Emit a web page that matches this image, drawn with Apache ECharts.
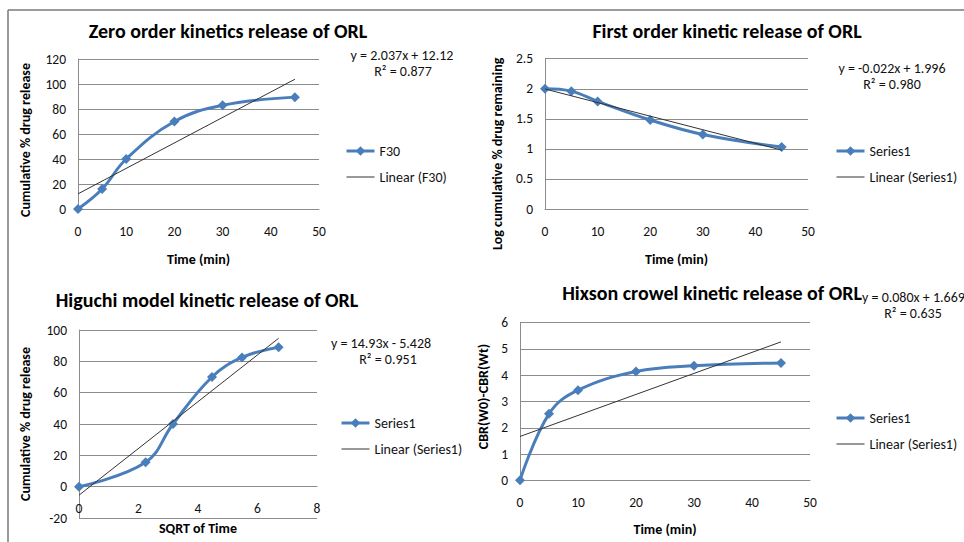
<!DOCTYPE html>
<html>
<head>
<meta charset="utf-8">
<script src="https://cdn.jsdelivr.net/npm/echarts@6/dist/echarts.min.js"></script>
<style>
html,body{margin:0;padding:0;background:#fff;}
#c{width:964px;height:542px;}
</style>
</head>
<body>
<div id="c"></div>
<script>
// ---- data ----
const timeMin = [0, 5, 10, 20, 30, 45];
const sqrtTime = [0, 2.24, 3.16, 4.47, 5.48, 6.71];
const zeroOrder = [0, 16, 40, 70, 83, 89.5];
const firstOrder = [2.0, 1.96, 1.79, 1.48, 1.24, 1.03];
const higuchi = [0, 15.6, 40, 70, 82.5, 89];
const hixson = [0, 2.53, 3.43, 4.14, 4.36, 4.47];
// trend line end points (x, y)
const zeroTrendX = [0, 45], zeroTrendY = [12.12, 103.8];
const firstTrendX = [0, 45], firstTrendY = [1.996, 0.98];
const higuchiTrendX = [0, 6.71], higuchiTrendY = [-5.43, 94.7];
const hixsonTrendX = [0, 45], hixsonTrendY = [1.669, 5.27];
// axis ticks
const timeTicks = {min: 0, max: 50, interval: 10};
const sqrtTicks = {min: 0, max: 8, interval: 2};
const zeroTicks = {min: 0, max: 120, interval: 20};
const firstTicks = {min: 0, max: 2.5, interval: 0.5};
const higuchiTicks = {min: -20, max: 100, interval: 20};
const hixsonTicks = {min: 0, max: 6, interval: 1};

const FONT = 'Carlito, Lato, "Open Sans", sans-serif';
const BLUE = '#4a7ebb';
const GRID_C = '#8c8c8c';

const pairs = (xs, ys) => xs.map((x, i) => [x, ys[i]]);

const grids = [
  {left: 78, top: 59, width: 241, height: 150},
  {left: 545, top: 58.7, width: 263, height: 150.3},
  {left: 79, top: 330, width: 238, height: 188},
  {left: 520, top: 322.7, width: 290, height: 157.6}
].map(g => Object.assign(g, {containLabel: false, outerBoundsMode: 'none'}));

// vertical distance from grid bottom to the y = 0 line (x axis crosses at zero)
function zeroOffset(gi, yTicks) {
  return -grids[gi].height * (0 - yTicks.min) / (yTicks.max - yTicks.min);
}

function xAxis(gi, ticks, name, gap, yTicks) {
  return Object.assign({
    type: 'value', gridIndex: gi, name: name, nameLocation: 'middle', nameGap: gap,
    position: 'bottom', offset: zeroOffset(gi, yTicks),
    nameTextStyle: {fontFamily: FONT, fontWeight: 'bold', fontSize: 14, color: '#000'},
    axisLine: {show: true, onZero: false, lineStyle: {color: GRID_C, width: 1}},
    axisTick: {show: false},
    splitLine: {show: false},
    axisLabel: {fontFamily: FONT, fontSize: 13.5, color: '#111', margin: 15}
  }, ticks);
}
function yAxis(gi, ticks, name, gap, shift) {
  const pad = shift > 0 ? [0, 2 * shift, 0, 0] : [0, 0, 0, -2 * shift];
  return Object.assign({
    type: 'value', gridIndex: gi, name: name, nameLocation: 'middle', nameGap: gap,
    nameTextStyle: {fontFamily: FONT, fontWeight: 'bold', fontSize: 14, color: '#000', padding: pad},
    axisLine: {show: true, onZero: false, lineStyle: {color: GRID_C, width: 1}},
    axisTick: {show: false},
    splitLine: {show: true, lineStyle: {color: GRID_C, width: 1}},
    axisLabel: {fontFamily: FONT, fontSize: 13.5, color: '#111', margin: 12}
  }, ticks);
}
function dataSeries(gi, name, xs, ys) {
  return {
    type: 'line', name: name, xAxisIndex: gi, yAxisIndex: gi, data: pairs(xs, ys),
    smooth: 0.4, symbol: 'diamond', symbolSize: 10, showSymbol: true,
    lineStyle: {color: BLUE, width: 3}, itemStyle: {color: BLUE}, z: 3
  };
}
function trendSeries(gi, name, xs, ys) {
  return {
    type: 'line', name: name, xAxisIndex: gi, yAxisIndex: gi, data: pairs(xs, ys),
    symbol: 'none', showSymbol: false,
    lineStyle: {color: '#333', width: 1}, itemStyle: {color: '#333'}, z: 4
  };
}
function legend(names, left, top) {
  return {
    orient: 'vertical', left: left, top: top, padding: 0,
    data: [
      {name: names[0], lineStyle: {width: 3, color: BLUE}, itemStyle: {color: BLUE}},
      {name: names[1], lineStyle: {width: 1, color: '#333'}, itemStyle: {opacity: 0}}
    ],
    itemWidth: 28, itemHeight: 12,
    itemGap: 12, textStyle: {fontFamily: FONT, fontSize: 14, color: '#111'},
    selectedMode: false
  };
}
function title(text, cx, top) {
  return {text: text, left: cx, top: top, textAlign: 'center', padding: 0,
    textStyle: {fontFamily: FONT, fontWeight: 'bold', fontSize: 20, color: '#000'}};
}
function eqText(text, x, y, align) {
  return {type: 'text', style: {text: text, x: x, y: y, align: align || 'center', verticalAlign: 'middle',
    font: '14px ' + FONT, fill: '#111'}};
}

const chart = echarts.init(document.getElementById('c'), null, {renderer: 'svg'});
chart.setOption({
  animation: false,
  backgroundColor: '#fff',
  title: [
    title('Zero order kinetics release of ORL', 228, 21),
    title('First order kinetic release of ORL', 727, 21),
    title('Higuchi model kinetic release of ORL', 207, 290),
    title('Hixson crowel kinetic release of ORL', 712, 283)
  ],
  grid: grids,
  xAxis: [
    xAxis(0, timeTicks, 'Time (min)', 43, zeroTicks),
    xAxis(1, timeTicks, 'Time (min)', 43, firstTicks),
    xAxis(2, sqrtTicks, 'SQRT of Time', 35, higuchiTicks),
    xAxis(3, timeTicks, 'Time (min)', 42, hixsonTicks)
  ],
  yAxis: [
    yAxis(0, zeroTicks, 'Cumulative % drug release', 46, 6),
    yAxis(1, firstTicks, 'Log cumulative % drug remaining', 41, 20),
    yAxis(2, higuchiTicks, 'Cumulative % drug release', 47, 0),
    yAxis(3, hixsonTicks, 'CBR(W0)-CBR(Wt)', 30, -5)
  ],
  legend: [
    legend(['F30', 'Linear (F30)'], 345, 144),
    legend(['Series1', 'Linear (Series1)'], 835, 144),
    legend(['Series1', 'Linear (Series1)'], 340, 416),
    legend(['Series1', 'Linear (Series1)'], 835, 411)
  ],
  series: [
    dataSeries(0, 'F30', timeMin, zeroOrder),
    trendSeries(0, 'Linear (F30)', zeroTrendX, zeroTrendY),
    dataSeries(1, 'Series1', timeMin, firstOrder),
    trendSeries(1, 'Linear (Series1)', firstTrendX, firstTrendY),
    dataSeries(2, 'Series1', sqrtTime, higuchi),
    trendSeries(2, 'Linear (Series1)', higuchiTrendX, higuchiTrendY),
    dataSeries(3, 'Series1', timeMin, hixson),
    trendSeries(3, 'Linear (Series1)', hixsonTrendX, hixsonTrendY)
  ],
  graphic: [
    {type: 'line', shape: {x1: 8, y1: 10, x2: 964, y2: 10}, style: {stroke: '#7a7a7a', lineWidth: 1.5}},
    {type: 'line', shape: {x1: 8, y1: 10, x2: 8, y2: 542}, style: {stroke: '#7a7a7a', lineWidth: 1.5}},
    eqText('y = 2.037x + 12.12', 402, 55),
    eqText('R² = 0.877', 403, 71),
    eqText('y = -0.022x + 1.996', 892, 68),
    eqText('R² = 0.980', 892, 84),
    eqText('y = 14.93x - 5.428', 381, 343),
    eqText('R² = 0.951', 388, 359),
    eqText('y = 0.080x + 1.669', 862, 297, 'left'),
    eqText('R² = 0.635', 913, 313)
  ]
});
</script>
</body>
</html>
